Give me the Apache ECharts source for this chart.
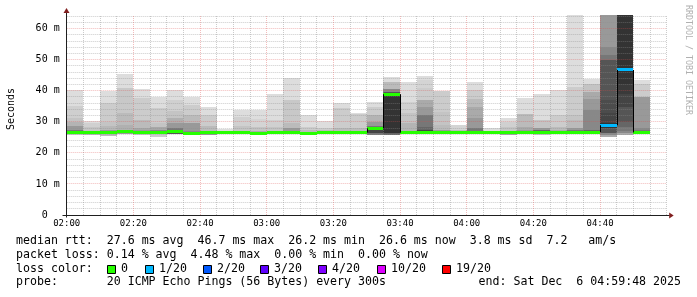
<!DOCTYPE html>
<html><head><meta charset="utf-8">
<script src="https://cdn.jsdelivr.net/npm/echarts@6/dist/echarts.min.js"></script>
<style>html,body{margin:0;padding:0;background:#fff}#c{width:697px;height:297px}</style>
</head><body><div id="c"></div>
<script>
// ---- data (minutes after 02:00, milliseconds) ----
const barStart = [0,5,10,15,20,25,30,35,40,45,50,55,60,65,70,75,80,85,90,95,100,105,110,115,120,125,130,135,140,145,150,155,160,165,170];
const barMinutes = 5;
const rttMin = [25.8,25.6,25.5,26.2,25.8,25.1,26.0,26.0,25.9,26.0,26.0,25.8,26.0,26.0,25.8,26.0,26.0,26.0,25.9,25.8,26.0,26.0,26.0,26.0,26.0,26.0,25.8,26.0,25.7,26.0,26.0,26.0,25.2,25.7,26.0];
const rttMedian = [26.6,26.7,26.7,26.8,26.6,26.7,26.8,26.2,26.6,26.5,26.6,26.4,26.6,26.6,26.4,26.5,26.5,26.6,27.9,38.9,26.5,26.7,26.6,26.6,26.6,26.5,26.5,26.6,26.6,26.6,26.7,26.7,28.9,46.7,26.6];
const lossCount = [0,0,0,0,0,0,0,0,0,0,0,0,0,0,0,0,0,0,0,0,0,0,0,0,0,0,0,0,0,0,0,0,1,1,0];
// smoke bands per bar, bottom-up: [upper edge ms, gray level]
const smoke = [
 [[26.5,0xcc],[27.4,0x77],[28.5,0x99],[30.1,0xb4],[31.2,0xc4],[35.0,0xcf],[40.1,0xdd]],
 [[26.1,0xbb],[27.1,0x99],[28.2,0xc4],[29.6,0xd0],[30.4,0xdd]],
 [[26.2,0xbb],[27.4,0x99],[28.8,0xb8],[30.1,0xc4],[36.0,0xcc],[40.0,0xdd]],
 [[27.4,0x99],[29.0,0xb0],[32.8,0xbb],[40.8,0xc8],[45.3,0xdd]],
 [[26.4,0xcc],[27.3,0x99],[28.0,0xa8],[30.7,0xbb],[37.8,0xcc],[40.5,0xdd]],
 [[26.3,0xcc],[27.4,0x88],[28.2,0xa8],[29.6,0xc4],[34.4,0xcc],[37.9,0xdd]],
 [[27.2,0x55],[28.0,0x77],[29.6,0x99],[31.2,0xb0],[33.5,0xc4],[37.1,0xd0],[40.1,0xdd]],
 [[26.3,0x44],[27.2,0x88],[29.6,0x99],[32.3,0xbb],[35.5,0xcc],[37.9,0xdd]],
 [[27.1,0x99],[28.5,0xbb],[32.3,0xcc],[34.7,0xdd]],
 [[26.9,0xcc],[27.7,0xdd]],
 [[27.1,0xaa],[28.5,0xc4],[31.4,0xd0],[33.9,0xdd]],
 [[27.0,0xaa],[28.4,0xc4],[30.9,0xd4],[33.8,0xdd]],
 [[27.1,0x99],[28.4,0xc4],[30.5,0xd0],[38.9,0xdd]],
 [[26.9,0x77],[27.9,0x99],[29.5,0xbb],[37.0,0xc8],[44.0,0xdd]],
 [[26.2,0x55],[27.3,0xbb],[28.4,0xcc],[32.2,0xdd]],
 [[27.3,0xbb],[27.9,0xcc],[30.2,0xdd]],
 [[27.2,0xaa],[27.9,0xbb],[34.6,0xcc],[36.1,0xdd]],
 [[27.2,0xaa],[27.9,0xbb],[32.5,0xcc],[33.0,0xdd]],
 [[26.3,0x77],[27.6,0x44],[28.6,0x77],[30.0,0x99],[32.2,0xb4],[34.8,0xcc],[36.4,0xdd]],
 [[26.4,0x66],[38.6,0x33],[39.6,0x55],[40.6,0x88],[42.9,0xbb],[44.5,0xdd]],
 [[27.2,0x99],[29.5,0xb4],[33.0,0xc4],[36.4,0xd0],[42.9,0xdd]],
 [[26.4,0x33],[27.3,0x44],[28.4,0x66],[32.2,0x77],[34.8,0x99],[37.0,0xaa],[41.0,0xcc],[43.4,0xd4],[44.7,0xdd]],
 [[27.3,0x99],[28.9,0xbb],[33.2,0xc4],[40.0,0xcc]],
 [[27.3,0xbb],[28.9,0xd4]],
 [[26.4,0x44],[27.9,0x77],[31.1,0x99],[34.8,0xaa],[37.5,0xbb],[40.2,0xcc],[42.9,0xdd]],
 [[26.9,0xcc],[27.9,0xdd]],
 [[27.1,0xaa],[28.4,0xc4],[30.0,0xd0],[31.3,0xdd]],
 [[27.3,0x99],[28.4,0xaa],[32.4,0xbb],[37.8,0xdd]],
 [[26.4,0xcc],[27.3,0x66],[28.1,0x99],[30.5,0xc4],[38.9,0xdd]],
 [[27.3,0xaa],[28.4,0xbb],[32.2,0xcc],[40.4,0xdd]],
 [[27.3,0x77],[27.9,0x99],[30.5,0xbb],[32.2,0xc4],[41.3,0xcc],[70.0,0xdd]],
 [[27.3,0x66],[33.8,0x88],[37.5,0x99],[39.6,0xaa],[42.3,0xc4],[43.7,0xdd]],
 [[25.7,0xaa],[26.5,0x88],[28.0,0x55],[29.5,0x33],[32.7,0x44],[37.0,0x4c],[49.8,0x55],[51.4,0x77],[54.1,0x88],[70.0,0x99]],
 [[26.3,0xaa],[27.0,0x88],[28.2,0x77],[30.0,0x66],[34.8,0x55],[39.1,0x44],[42.3,0x3a],[70.0,0x33]],
 [[27.3,0x77],[27.9,0x88],[38.0,0x99],[42.3,0xcc],[43.4,0xdd]]
];
const lossSteps = [0,1,2,3,4,10,19];
const lossLabels = ['0','1/20','2/20','3/20','4/20','10/20','19/20'];
const lossColors = ['#26ff00','#00b8ff','#0059ff','#5e00ff','#7e00ff','#dd00ff','#ff0000'];
const xMajorGrid = [20,40,60,80,100,120,140,160];
const xMinorGrid = [5,10,15,25,30,35,45,50,55,65,70,75,85,90,95,105,110,115,125,130,135,145,150,155,165,170,175,180];
const yMajorGrid = [10,20,30,40,50,60];
const yMinorGrid = [2,4,6,8,12,14,16,18,22,24,26,28,32,34,36,38,42,44,46,48,52,54,56,58,62,64];
const X_MAX = 180, Y_MAX = 64.4;

const legendLines = [
 'median rtt:  27.6 ms avg  46.7 ms max  26.2 ms min  26.6 ms now  3.8 ms sd  7.2   am/s',
 'packet loss: 0.14 % avg  4.48 % max  0.00 % min  0.00 % now'
];
const probeText = 'probe:       20 ICMP Echo Pings (56 Bytes) every 300s';
const endText = 'end: Sat Dec  6 04:59:48 2025';

// ---- helpers ----
function grayHex(g){const h=g.toString(16).padStart(2,'0');return '#'+h+h+h;}
function lossColor(n){let c=lossColors[0];lossSteps.forEach((s,k)=>{if(n>=s)c=lossColors[k];});return c;}
function fmtTime(v){const m=120+v;const h=Math.floor(m/60),mm=m%60;return String(h).padStart(2,'0')+':'+String(mm).padStart(2,'0');}
const MONO='"DejaVu Sans Mono", monospace';

const chart = echarts.init(document.getElementById('c'), null, {renderer:'canvas'});

function renderSmoke(params, api){
  const i = params.dataIndex, t = api.value(0);
  const xl = Math.round(api.coord([t,0])[0]);
  const xr = Math.round(api.coord([t+barMinutes,0])[0]);
  let lo = rttMin[i];
  const children = [];
  smoke[i].forEach(([hi,g])=>{
    const yTop = Math.round(api.coord([t,Math.min(hi,Y_MAX)])[1]);
    const yBot = Math.round(api.coord([t,Math.min(lo,Y_MAX)])[1]);
    if (yBot>yTop) children.push({type:'rect',shape:{x:xl,y:yTop,width:xr-xl,height:yBot-yTop},style:{fill:grayHex(g)}});
    lo = hi;
  });
  return {type:'group',children};
}
function renderGrid(params, api){
  const children = [];
  const x0 = api.coord([0,0])[0], x1 = api.coord([X_MAX,0])[0];
  const yb = api.coord([0,0])[1], yt = api.coord([0,Y_MAX])[1];
  const minor = 'rgba(143,143,143,0.45)', major = 'rgba(222,79,79,0.38)';
  function vline(v,c){const x=Math.floor(api.coord([v,0])[0])+0.5;children.push({type:'line',shape:{x1:x,y1:yb,x2:x,y2:yt},style:{stroke:c,lineWidth:1,lineDash:[1,1]}});}
  function hline(v,c){const y=Math.floor(api.coord([0,v])[1])+0.5;children.push({type:'line',shape:{x1:x0,y1:y,x2:x1,y2:y},style:{stroke:c,lineWidth:1,lineDash:[1,1]}});}
  xMinorGrid.forEach(v=>vline(v,minor));
  yMinorGrid.forEach(v=>hline(v,minor));
  xMajorGrid.forEach(v=>vline(v,major));
  yMajorGrid.forEach(v=>hline(v,major));
  return {type:'group',children};
}
function renderMedian(params, api){
  const i = params.dataIndex, t = api.value(0);
  const xl = Math.round(api.coord([t,0])[0]);
  const xr = Math.round(api.coord([t+barMinutes,0])[0]);
  const y = api.coord([t,rttMedian[i]])[1];
  const children = [{type:'rect',shape:{x:xl,y:Math.round(y-1.5),width:xr-xl,height:3},style:{fill:lossColor(lossCount[i])}}];
  if (i>0){
    const yp = api.coord([t,rttMedian[i-1]])[1];
    if (Math.abs(yp-y)>2){
      children.push({type:'line',shape:{x1:xl+0.5,y1:Math.min(yp,y),x2:xl+0.5,y2:Math.max(yp,y)},style:{stroke:'#000',lineWidth:1}});
    }
  }
  return {type:'group',children};
}

const seriesData = barStart.map((t,i)=>[t,rttMin[i],rttMedian[i]]);

const option = {
  backgroundColor:'#ffffff',
  animation:false,
  grid:{left:66.7,right:30.3,top:15,bottom:82,containLabel:false,outerBoundsMode:'none'},
  xAxis:{type:'value',min:0,max:X_MAX,interval:20,
    axisLine:{show:false},axisTick:{show:false},splitLine:{show:false},
    axisLabel:{formatter:fmtTime,showMaxLabel:false,fontFamily:MONO,fontSize:9,color:'#000',margin:4}},
  yAxis:{type:'value',min:0,max:Y_MAX,interval:10,
    axisLine:{show:false},axisTick:{show:false},splitLine:{show:false},
    axisLabel:{formatter:v=>v===0?'0  ':v+' m',showMaxLabel:false,fontFamily:MONO,fontSize:10,color:'#000',margin:7}},
  series:[
    {type:'custom',name:'smoke',renderItem:renderSmoke,data:seriesData,encode:{x:0,y:1},clip:true,silent:true,z:1},
    {type:'custom',name:'grid',renderItem:renderGrid,data:[[0,0]],encode:{x:0,y:1},silent:true,z:2},
    {type:'custom',name:'median',renderItem:renderMedian,data:seriesData,encode:{x:0,y:2},clip:true,silent:true,z:3}
  ]
};
chart.setOption(option);

// axes, arrows, legend text
const o = chart.convertToPixel({gridIndex:0},[0,0]);
const e = chart.convertToPixel({gridIndex:0},[X_MAX,Y_MAX]);
const ax = Math.floor(o[0])+0.5, ay = Math.floor(o[1])+0.5;
const axisCol = 'rgb(31,31,31)', arrowCol = 'rgb(128,31,31)';
const g = [];
g.push({type:'line',shape:{x1:ax-4,y1:ay,x2:e[0]+3,y2:ay},style:{stroke:axisCol,lineWidth:1},z:10});
g.push({type:'line',shape:{x1:ax,y1:ay+2,x2:ax,y2:e[1]-2},style:{stroke:axisCol,lineWidth:1},z:10});
g.push({type:'polygon',shape:{points:[[e[0]+7,ay],[e[0]+2.5,ay-3],[e[0]+2.5,ay+3]]},style:{fill:arrowCol},z:11});
g.push({type:'polygon',shape:{points:[[ax,e[1]-7],[ax-3,e[1]-2],[ax+3,e[1]-2]]},style:{fill:arrowCol},z:11});
g.push({type:'text',rotation:Math.PI/2,x:11,y:109,style:{text:'Seconds',x:0,y:0,font:'10px '+MONO,fill:'#000',align:'center',verticalAlign:'middle'},z:10});
const LF = '11.6px '+MONO;
const rowY = [241,254.8,268.6,282.4];
legendLines.forEach((s,k)=>g.push({type:'text',style:{text:s,x:16,y:rowY[k],font:LF,fill:'#000',align:'left',verticalAlign:'middle'},z:10}));
g.push({type:'text',style:{text:'loss color:',x:16,y:rowY[2],font:LF,fill:'#000',align:'left',verticalAlign:'middle'},z:10});
const boxX = [107.5,145.5,203.5,260.5,318.5,377.5,442.5];
lossLabels.forEach((lab,k)=>{
  g.push({type:'rect',shape:{x:boxX[k],y:265.5,width:8,height:8},style:{fill:lossColors[k],stroke:'#000',lineWidth:1},z:10});
  g.push({type:'text',style:{text:lab,x:boxX[k]+13.5,y:rowY[2],font:LF,fill:'#000',align:'left',verticalAlign:'middle'},z:10});
});
g.push({type:'text',style:{text:probeText,x:16,y:rowY[3],font:LF,fill:'#000',align:'left',verticalAlign:'middle'},z:10});
g.push({type:'text',style:{text:endText,x:681,y:rowY[3],font:LF,fill:'#000',align:'right',verticalAlign:'middle'},z:10});
g.push({type:'text',rotation:-Math.PI/2,x:688,y:60,style:{text:'RRDTOOL / TOBI OETIKER',x:0,y:0,font:'8.3px '+MONO,fill:'#b0b0b0',align:'center',verticalAlign:'middle'},z:10});
chart.setOption({graphic:{elements:g}});
</script></body></html>
